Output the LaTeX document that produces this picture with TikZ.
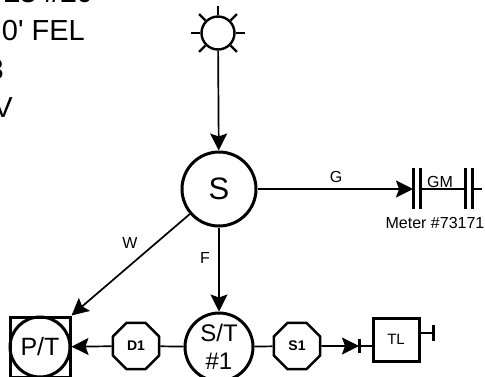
\documentclass[tikz,border=0pt]{standalone}
\usepackage{fontspec}
\setmainfont{Liberation Sans}
\usetikzlibrary{arrows.meta,shapes.geometric}
\tikzset{
  bigtip/.style={-{Stealth[length=17pt,width=17pt,inset=3pt]}},
  pipe/.style={line width=1.7pt},
  well/.style={circle,draw,line width=3pt,inner sep=0pt},
  valve/.style={regular polygon,regular polygon sides=8,draw,line width=2.4pt,minimum size=50pt,inner sep=0pt,font=\fontsize{14}{14}\selectfont\bfseries},
  flowlabel/.style={inner sep=0pt,font=\fontsize{16}{16}\selectfont},
  header/.style={anchor=east,inner sep=0pt,font=\fontsize{29}{29}\selectfont}
}
\begin{document}
\begin{tikzpicture}[x=1pt,y=-1pt]
\useasboundingbox (0,0) rectangle (485,376);
% heading, cut off by the page
\node[header,font=\fontsize{29}{29}\selectfont\bfseries] (title) at (93,-7) {23 \#20};
\node[header] (fel) at (85,31) {0\textquotesingle{} FEL};
\node[header] (sec) at (4,70) {3};
\node[header] (rng) at (13,108) {V};
% wells and tanks
\node[circle,draw,line width=2.4pt,minimum size=33pt,inner sep=0pt] (sun) at (218,33) {};
\foreach \a in {0,45,135,180,225,315}
  \draw[line width=2.4pt] (sun.\a) -- ++(\a:9pt);
\draw[line width=2.4pt] (sun.north) -- ++(0,-9);
\node[well,minimum size=74pt,font=\fontsize{31}{31}\selectfont] (sep) at (219,189) {S};
\node[well,minimum size=68pt,align=center,font=\fontsize{24}{28}\selectfont] (st) at (219,347) {S/T\\\#1};
\node[draw,line width=3pt,minimum size=60pt,inner sep=0pt] (ptbox) at (40,347) {};
\node[well,minimum size=60pt,font=\fontsize{25}{25}\selectfont] (pt) at (40,347) {P/T};
\node[valve] (dehy) at (136,346) {D1};
\node[valve] (stm) at (297,346) {S1};
\node[draw,line width=3pt,minimum width=46pt,minimum height=43pt,inner sep=0pt,font=\fontsize{15}{15}\selectfont] (tl) at (396,339.5) {TL};
% meter and line ends
\coordinate (gmleft) at (413,189);
\coordinate (gmin) at (420,189);
\coordinate (gmout) at (465,189);
\coordinate (gmright) at (472,189);
\coordinate (gmend) at (482,189);
\coordinate (tlcap) at (359,346);
\coordinate (tlend) at (433,333);
\foreach \c in {gmleft,gmin,gmout,gmright}
  \draw[line width=3pt] (\c) ++(0,-21) -- ++(0,41);
\draw[line width=3pt] (tlcap) ++(0,-7) -- ++(0,14);
\draw[line width=3pt] (tlend) ++(0,-8) -- ++(0,16);
% flow lines
\draw[pipe,bigtip] (sun) -- (sep);
\draw[pipe,bigtip] (sep) -- (gmleft);
\draw[pipe] (gmin) -- (gmout);
\draw[pipe] (gmright) -- (gmend);
\draw[pipe,bigtip] (sep) -- (st);
\draw[pipe,bigtip] (sep) -- (ptbox.north east);
\draw[pipe,bigtip] (dehy) -- (pt);
\draw[pipe] (st) -- (dehy);
\draw[pipe] (st) -- (stm);
\draw[pipe,bigtip] (stm) -- (tlcap);
\draw[pipe] (tlcap) -- (tl.west |- tlcap);
\draw[pipe] (tl.east |- tlend) -- (tlend);
% labels
\node[flowlabel] (g) at (336,177) {G};
\node[flowlabel] (gm) at (440,182) {GM};
\node[flowlabel] (meter) at (435,223) {Meter \#73171};
\node[flowlabel] (w) at (130,243) {W};
\node[flowlabel] (f) at (205,258) {F};
\end{tikzpicture}
\end{document}
